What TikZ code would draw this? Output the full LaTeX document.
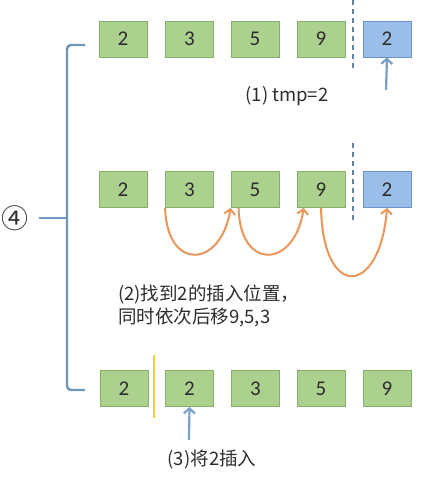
\documentclass[tikz,border=0pt]{standalone}
\usepackage{fontspec}
\setmainfont{Carlito}
\newfontfamily\cjk{Noto Sans CJK SC}
\usetikzlibrary{arrows.meta,calc}
\definecolor{gfill}{RGB}{172,209,142}
\definecolor{gdraw}{RGB}{135,175,105}
\definecolor{bfill}{RGB}{155,190,232}
\definecolor{bdraw}{RGB}{108,146,202}
\definecolor{bracecol}{RGB}{110,150,185}
\definecolor{arrowblue}{RGB}{120,160,200}
\definecolor{orng}{RGB}{234,150,90}
\definecolor{ylw}{RGB}{240,210,50}
\definecolor{dashcol}{RGB}{100,130,170}
\definecolor{txt}{RGB}{45,45,45}
\begin{document}
\begin{tikzpicture}[x=1pt,y=-1pt,
 cell/.style={draw=gdraw, fill=gfill, line width=0.8pt, minimum width=48pt, minimum height=36pt, inner sep=0pt, text=txt, font=\fontsize{21}{21}\selectfont},
 tmpcell/.style={cell, draw=bdraw, fill=bfill},
 lbl/.style={font=\cjk\fontsize{18.5}{23}\selectfont, text=txt, inner sep=0pt},
 upar/.style={draw=arrowblue, line width=2.2pt, -{Straight Barb[length=5pt,width=11pt]}},
 mv/.style={draw=orng, line width=2pt, -{Straight Barb[length=5pt,width=11pt]}},
 sep/.style={draw=dashcol, line width=2.2pt, dash pattern=on 5pt off 4pt},
 brc/.style={draw=bracecol, line width=2.4pt, rounded corners=4pt}]
\useasboundingbox (0,0) rectangle (442,482);
% row 1
\node[cell] (r1a) at (123,39) {2};
\node[cell] (r1b) at (189.5,39) {3};
\node[cell] (r1c) at (255,39) {5};
\node[cell] (r1d) at (321,39) {9};
\node[tmpcell] (r1e) at (387,39) {2};
\coordinate (d1s) at (353,0);
\coordinate (d1e) at (353,71);
\draw[sep] (d1s) -- (d1e);
\coordinate (a1) at (386,90);
\draw[upar] (a1) -- (r1e.south);
\node[lbl] (t1) at (287,96) {(1) tmp=2};
% row 2
\node[cell] (r2a) at (123,189.5) {2};
\node[cell] (r2b) at (189.5,189.5) {3};
\node[cell] (r2c) at (255,189.5) {5};
\node[cell] (r2d) at (321,189.5) {9};
\node[tmpcell] (r2e) at (387,189.5) {2};
\coordinate (d2s) at (353,143);
\coordinate (d2e) at (353,221);
\draw[sep] (d2s) -- (d2e);
\draw[mv] (r2b.south west) .. controls (167,272) and (221,268) .. (r2c.south west);
\draw[mv] ($(r2c.south west)+(8,0)$) .. controls (240,272) and (295,268) .. ($(r2d.south west)+(7,0)$);
\draw[mv] (r2d.south) .. controls (323,301) and (380,296) .. (r2e.south);
\node[lbl, anchor=west, align=left] (t2) at (118,306) {(2)找到2的插入位置，\\同时依次后移9,5,3};
% row 3
\node[cell] (r3a) at (124,388.5) {2};
\node[cell] (r3b) at (189.5,388.5) {2};
\node[cell] (r3c) at (255.5,388.5) {3};
\node[cell] (r3d) at (321,388.5) {5};
\node[cell] (r3e) at (387,388.5) {9};
\coordinate (y1) at (154,355);
\coordinate (y2) at (154,418);
\draw[draw=ylw, line width=2.2pt] (y1) -- (y2);
\coordinate (a3) at (189,440);
\draw[upar] (a3) -- (r3b.south);
\node[lbl] (t3) at (212,460) {(3)将2插入};
% brace
\coordinate (bt) at (85,45);
\coordinate (bm) at (67,218);
\coordinate (bb) at (85,390);
\coordinate (tk) at (39,218);
\draw[brc] (bt) -| (bm) |- (bb);
\draw[brc] (tk) -- (bm);
\node[font=\cjk\fontsize{27}{27}\selectfont, text=txt, inner sep=0pt] (c4) at (15,218) {④};
\end{tikzpicture}
\end{document}
